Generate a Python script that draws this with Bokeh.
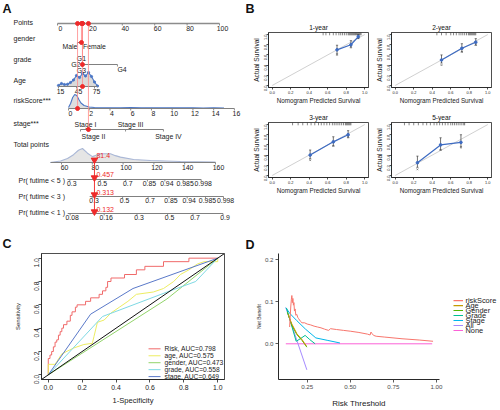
import math
from bokeh.plotting import figure
from bokeh.layouts import row, column
from bokeh.models import Range1d, FixedTicker, NumeralTickFormatter
from bokeh.core.properties import value
from bokeh.embed import file_html
from bokeh.resources import INLINE

# ======================= DATA =======================
# ---- Panel A : nomogram ----
POINTS_TICKS = [0, 20, 40, 60, 80, 100]
GENDER_LEVELS = ["Male", "Female"]
GENDER_POINTS = [12.3, 14.8]
GRADE_LEVELS = ["G1", "G2", "G3", "G4"]
GRADE_POINTS = [15.4, 15.4, 15.4, 37.0]
AGE_TICKS = [15, 45, 75]
AGE_RANGE = [15, 80]
AGE_POINTS_RANGE = [0.6, 24.7]
AGE_DENS_X = [15, 20, 25, 30, 35, 40, 45, 50, 55, 60, 65, 70, 75, 80]
AGE_DENS_Y = [1.0, 3.0, 2.0, 2.2, 4.0, 6.5, 11.0, 9.0, 13.0, 10.5, 14.0, 10.0, 4.5, 0.5]
RISK_TICKS = [0, 2, 4, 6, 8, 10, 12, 14, 16]
RISK_POINTS_RANGE = [6.8, 109.2]          # points at riskScore 0 and 16
RISK_DENS_X = [0, 0.2, 0.4, 0.6, 0.8, 1.0, 1.2, 1.5, 2.0, 2.5, 3, 4, 5, 6, 7, 8, 9, 10, 11, 12, 13, 14, 15]
RISK_DENS_Y = [1.0, 5.0, 11.0, 14.0, 13.0, 9.0, 5.5, 3.0, 1.5, 1.0, 0.8, 0.8, 0.6, 0.9, 0.6, 0.8, 0.6, 0.8, 0.6, 0.7, 0.5, 0.8, 0.5]
STAGE_LEVELS = ["Stage I", "Stage II", "Stage III", "Stage IV"]
STAGE_POINTS = [14.2, 19.1, 42.0, 65.4]
TOTAL_TICKS = [60, 80, 100, 120, 140, 160]
TOTAL_RANGE = [53, 160]
TOTAL_POINTS_AT = [2.47, 97.53]           # points position of total 60 and total 160
TOTAL_DENS_X = [52.6, 59.4, 63.9, 67.8, 71.0, 73.6, 76.9, 80.1, 85.3, 91.8, 95.0, 98.3, 106.8, 117.8, 137.3, 160.0]
TOTAL_DENS_Y = [0, 1.5, 4, 8, 12.5, 14.3, 9.5, 6, 9, 9, 7, 5.5, 3, 2, 1, 0.5]
PR_NAMES = ["Pr( futime < 5 )", "Pr( futime < 3 )", "Pr( futime < 1 )"]
PR5_TICKS = ["0.3", "0.5", "0.7", "0.85", "0.94", "0.985", "0.998"]
PR5_AT = [65.4, 85.2, 101.7, 115.8, 127.1, 139.0, 150.7]
PR3_TICKS = ["0.3", "0.5", "0.7", "0.85", "0.94", "0.985", "0.998"]
PR3_AT = [79.9, 99.7, 116.2, 129.8, 141.6, 153.5, 165.2]
PR1_TICKS = ["0.08", "0.16", "0.3", "0.5", "0.7", "0.9"]
PR1_AT = [65.6, 87.7, 109.0, 128.9, 145.4, 164.9]
CASE_GENDER = "Female"
CASE_GRADE = "G3"
CASE_AGE = 55
CASE_RISK = 0.87
CASE_STAGE = "Stage II"
CASE_TOTAL = 81.4
CASE_PROBS = ["0.457", "0.313", "0.132"]

# ---- Panel B : calibration ----
CAL_TITLES = ["1-year", "2-year", "3-year", "5-year"]
CAL_PRED_1 = [0.70, 0.85, 0.93]; CAL_OBS_1 = [0.70, 0.80, 0.96]
CAL_LO_1 = [0.62, 0.74, 0.92]; CAL_HI_1 = [0.79, 0.88, 1.00]; CAL_BC_1 = [0.60, 0.77, 0.93]
CAL_PRED_2 = [0.50, 0.72, 0.87]; CAL_OBS_2 = [0.50, 0.73, 0.85]
CAL_LO_2 = [0.44, 0.66, 0.79]; CAL_HI_2 = [0.60, 0.82, 0.92]; CAL_BC_2 = [0.40, 0.66, 0.80]
CAL_PRED_3 = [0.41, 0.66, 0.82]; CAL_OBS_3 = [0.40, 0.66, 0.80]
CAL_LO_3 = [0.33, 0.58, 0.74]; CAL_HI_3 = [0.50, 0.76, 0.88]; CAL_BC_3 = [0.30, 0.58, 0.76]
CAL_PRED_5 = [0.24, 0.49, 0.71]; CAL_OBS_5 = [0.25, 0.60, 0.65]
CAL_LO_5 = [0.16, 0.50, 0.56]; CAL_HI_5 = [0.38, 0.74, 0.80]; CAL_BC_5 = [0.12, 0.50, 0.55]
RUG_1 = [0.55, 0.58, 0.62, 0.66, 0.69, 0.72, 0.74, 0.76, 0.78, 0.80, 0.82, 0.83, 0.84, 0.85, 0.86,
         0.87, 0.88, 0.89, 0.90, 0.91, 0.92, 0.93, 0.94, 0.95, 0.96]
RUG_2 = [0.45, 0.50, 0.55, 0.60, 0.63, 0.66, 0.69, 0.71, 0.73, 0.75, 0.77, 0.79, 0.80, 0.81, 0.82,
         0.83, 0.84, 0.85, 0.86, 0.87]
RUG_3 = [0.22, 0.28, 0.33, 0.38, 0.42, 0.46, 0.50, 0.53, 0.56, 0.59, 0.62, 0.65, 0.67, 0.69, 0.71,
         0.73, 0.75, 0.77, 0.79, 0.80, 0.81, 0.82, 0.83, 0.84, 0.85]
RUG_5 = [0.10, 0.15, 0.20, 0.25, 0.30, 0.34, 0.38, 0.42, 0.45, 0.48, 0.51, 0.54, 0.57, 0.60, 0.62,
         0.64, 0.66, 0.68, 0.70, 0.72, 0.74, 0.75]

# ---- Panel C : ROC ----
ROC_NAMES = ["Risk, AUC=0.798", "age, AUC=0.575", "gender, AUC=0.473", "grade, AUC=0.558", "stage, AUC=0.649"]
RISK_FPR = [0.00, 0.00, 0.01, 0.02, 0.03, 0.04, 0.05, 0.06, 0.07, 0.08, 0.09, 0.11, 0.13, 0.14, 0.16,
            0.17, 0.22, 0.25, 0.30, 0.32, 0.34, 0.35, 0.37, 0.45, 0.52, 0.57, 0.68, 0.83, 1.00]
RISK_TPR = [0.06, 0.14, 0.17, 0.20, 0.24, 0.28, 0.30, 0.34, 0.37, 0.40, 0.43, 0.46, 0.51, 0.54, 0.58,
            0.60, 0.63, 0.66, 0.69, 0.72, 0.75, 0.80, 0.83, 0.86, 0.90, 0.93, 0.97, 1.00, 1.00]
AGE_FPR = [0, 0, 0.04, 0.08, 0.15, 0.21, 0.26, 0.27, 0.29, 0.33, 0.37, 0.42, 0.47, 0.52, 0.62, 0.68,
           0.74, 0.78, 0.83, 0.88, 0.92, 1.0, 1.0]
AGE_TPR = [0, 0.09, 0.09, 0.18, 0.23, 0.26, 0.27, 0.33, 0.45, 0.47, 0.53, 0.58, 0.63, 0.69, 0.71, 0.74,
           0.80, 0.86, 0.90, 0.95, 0.97, 0.97, 1.0]
GENDER_FPR = [0, 0.70, 1.0]
GENDER_TPR = [0, 0.65, 1.0]
GRADE_FPR = [0, 0.32, 0.72, 0.87, 1.0]
GRADE_TPR = [0, 0.50, 0.72, 0.80, 1.0]
STAGE_FPR = [0, 0.25, 0.50, 1.0]
STAGE_TPR = [0, 0.52, 0.74, 1.0]

# ---- Panel D : decision curves ----
DCA_NAMES = ["riskScore", "Age", "Gender", "Grade", "Stage", "All", "None"]
DCA_RISK_X = [0.148, 0.152, 0.155, 0.158, 0.161, 0.164, 0.167, 0.170, 0.173, 0.176, 0.180, 0.184, 0.190, 0.195,
              0.200, 0.210, 0.220, 0.235, 0.250, 0.270, 0.290, 0.310, 0.330, 0.350, 0.365, 0.375, 0.385, 0.420,
              0.460, 0.500, 0.550, 0.600, 0.615, 0.620, 0.625, 0.635, 0.650, 0.700, 0.800, 0.900, 0.980]
DCA_RISK_Y = [0.040, 0.070, 0.090, 0.105, 0.115, 0.098, 0.108, 0.092, 0.098, 0.078, 0.083, 0.068, 0.070, 0.063,
              0.060, 0.054, 0.050, 0.050, 0.047, 0.045, 0.042, 0.040, 0.038, 0.035, 0.033, 0.032, 0.036, 0.034,
              0.032, 0.030, 0.027, 0.023, 0.021, 0.028, 0.025, 0.020, 0.018, 0.016, 0.012, 0.009, 0.006]
DCA_AGE_X = [0.14, 0.16, 0.19, 0.22, 0.245]
DCA_AGE_Y = [0.070, 0.048, 0.024, 0.010, -0.005]
DCA_GENDER_X = [0.135, 0.16, 0.19, 0.22, 0.248]
DCA_GENDER_Y = [0.075, 0.045, 0.022, 0.008, -0.008]
DCA_GRADE_X = [0.13, 0.155, 0.186, 0.21, 0.238, 0.265, 0.296]
DCA_GRADE_Y = [0.085, 0.050, 0.006, 0.012, 0.020, 0.010, 0.000]
DCA_STAGE_X = [0.126, 0.15, 0.19, 0.24, 0.30, 0.37, 0.44]
DCA_STAGE_Y = [0.086, 0.072, 0.055, 0.035, 0.014, 0.008, 0.002]
DCA_ALL_X = [0.126, 0.248]
DCA_ALL_Y = [0.086, -0.062]
DCA_NONE_X = [0.126, 0.975]
DCA_NONE_Y = [0.0, 0.0]

# ======================= STYLE / LAYOUT =======================
FONT = "Liberation Sans"
TXT = "#1a1a1a"
RED = "#EE2A2A"


def fpx(s):
    return f"{s:.2f}px"


def make_fig(box, frame, xr, yr, axes=True):
    x0, x1, y0, y1 = box
    fx0, fx1, fy0, fy1 = frame
    kw = dict(
        width=round(x1) - round(x0),
        height=round(y1) - round(y0),
        min_border=0,
        min_border_left=round(fx0) - round(x0),
        min_border_right=round(x1) - round(fx1),
        min_border_top=round(fy0) - round(y0),
        min_border_bottom=round(y1) - round(fy1),
        x_range=Range1d(*xr), y_range=Range1d(*yr),
        output_backend="svg", toolbar_location=None, tools="",
        background_fill_color="white", border_fill_color="white",
    )
    if not axes:
        kw.update(x_axis_type=None, y_axis_type=None)
    p = figure(**kw)
    p.grid.visible = False
    p.outline_line_color = None
    return p


def geo(frame, xr, yr):
    fx0, fx1, fy0, fy1 = frame
    gx = lambda px: xr[0] + (px - fx0) / (fx1 - fx0) * (xr[1] - xr[0])
    gy = lambda py: yr[0] + (fy1 - py) / (fy1 - fy0) * (yr[1] - yr[0])
    return gx, gy


def set_title(p, text, size, align, offset, standoff, bold=False):
    t = p.title
    t.text = text
    t.align = align
    t.offset = offset
    t.standoff = standoff
    t.vertical_align = "bottom"
    t.text_font = FONT
    t.text_font_size = fpx(size)
    t.text_font_style = "bold" if bold else "normal"
    t.text_color = "#111111"


def axis_labels(p, xlab, ylab, xsize, ysize, xstand, ystand):
    p.xaxis.axis_label = xlab
    p.yaxis.axis_label = ylab
    for ax, s, st in ((p.xaxis, xsize, xstand), (p.yaxis, ysize, ystand)):
        ax.axis_label_text_font = FONT
        ax.axis_label_text_font_size = fpx(s)
        ax.axis_label_text_font_style = "normal"
        ax.axis_label_text_color = TXT
        ax.axis_label_standoff = st


def r_axes(p, ticks, size, tick_out, standoff, fmt="0.0"):
    for ax in (p.xaxis, p.yaxis):
        ax.ticker = FixedTicker(ticks=ticks)
        ax.formatter = NumeralTickFormatter(format=fmt)
        ax.major_tick_in = 0
        ax.major_tick_out = tick_out
        ax.major_label_standoff = standoff
        ax.major_label_text_font = FONT
        ax.major_label_text_font_size = fpx(size)
        ax.major_label_text_color = TXT
        ax.axis_line_color = "#222222"
        ax.major_tick_line_color = "#222222"
        ax.axis_line_width = 0.8
        ax.major_tick_line_width = 0.8
    p.yaxis.major_label_orientation = math.pi / 2
    p.outline_line_color = "#222222"
    p.outline_line_width = 0.8


# ======================= PANEL A =======================
A_BOX = (0, 245, 0, 230)
PX0, PXU = 57.0, 1.62
pA = make_fig(A_BOX, A_BOX, ((0 - PX0) / PXU, (245 - PX0) / PXU), (230, 0), axes=False)


def ptx(px):
    return (px - PX0) / PXU


def age_pts(a):
    return AGE_POINTS_RANGE[0] + (a - AGE_RANGE[0]) * (AGE_POINTS_RANGE[1] - AGE_POINTS_RANGE[0]) / (AGE_RANGE[1] - AGE_RANGE[0])


def risk_pts(r):
    return RISK_POINTS_RANGE[0] + r * (RISK_POINTS_RANGE[1] - RISK_POINTS_RANGE[0]) / 16.0


def total_pts(t):
    return TOTAL_POINTS_AT[0] + (t - 60) * (TOTAL_POINTS_AT[1] - TOTAL_POINTS_AT[0]) / 100.0


AX_COL = "#808080"


def atext(xs, ys, texts, size=6.9, color=TXT, align="center", baseline="middle", dx=0.0, bold=False, fig=None):
    (fig or pA).text(x=xs, y=ys, text=texts, text_font=value(FONT), text_font_size=fpx(size),
                     text_color=color, text_align=align, text_baseline=baseline, x_offset=dx,
                     text_font_style="bold" if bold else "normal")


def aline(x0, x1, y, w=1.1, col=AX_COL):
    pA.line([x0, x1], [y, y], line_color=col, line_width=w)


def aticks(xs, y, ln=2.0):
    pA.segment(x0=xs, y0=[y] * len(xs), x1=xs, y1=[y + ln] * len(xs), line_color=AX_COL, line_width=0.9)


def density(xs_pts, ds, base, fill, line, markers=False):
    m = max(ds)
    ys = [base - d / m * 14.0 for d in ds]
    pA.varea(x=xs_pts, y1=[base] * len(xs_pts), y2=ys, fill_color=fill, fill_alpha=0.9)
    pA.line(xs_pts, ys, line_color=line, line_width=1.1)
    if markers:
        pA.scatter(xs_pts, ys, size=2.2, color=line)


# row labels
ROW_LABEL_Y = [22, 38, 59, 80, 100, 123, 144]
ROW_LABELS = ["Points", "gender", "grade", "Age", "riskScore***", "stage***", "Total points"]
atext([ptx(13)] * len(ROW_LABELS), ROW_LABEL_Y, ROW_LABELS, size=7, align="left")
atext([ptx(18)] * 3, [180, 196, 212], PR_NAMES, size=7, align="left")

# densities (drawn below axes)
density([age_pts(a) for a in AGE_DENS_X], AGE_DENS_Y, 86, "#D6D6D6", "#4A76C6", markers=True)
density([risk_pts(r) for r in RISK_DENS_X], RISK_DENS_Y, 108, "#DADADA", "#4A76C6")
density([total_pts(t) for t in TOTAL_DENS_X], TOTAL_DENS_Y, 162, "#E2E2E2", "#A9B7D6")

# Points axis
aline(0, 100, 23, w=1.6, col="#8c8c8c")
aticks(POINTS_TICKS, 23)
atext(POINTS_TICKS, [27.5] * len(POINTS_TICKS), [str(v) for v in POINTS_TICKS], dx=3)

# gender
aline(GENDER_POINTS[0], GENDER_POINTS[1], 42)
aticks(GENDER_POINTS, 42)
atext([GENDER_POINTS[0]], [45.5], [GENDER_LEVELS[0]], align="right")
atext([GENDER_POINTS[1]], [45.5], [GENDER_LEVELS[1]], align="left", dx=1.5)

# grade
aline(min(GRADE_POINTS), max(GRADE_POINTS), 64)
aticks(GRADE_POINTS, 64)
atext([GRADE_POINTS[0]], [57.5], [GRADE_LEVELS[0]], dx=-1)
atext([GRADE_POINTS[1]], [63.5], [GRADE_LEVELS[1]], align="right", dx=-2)
atext([GRADE_POINTS[2]], [69.5], [GRADE_LEVELS[2]], dx=-1)
atext([GRADE_POINTS[3]], [68.5], [GRADE_LEVELS[3]], align="left")

# age
aline(age_pts(AGE_RANGE[0]), age_pts(AGE_RANGE[1]), 86)
aticks([age_pts(a) for a in AGE_TICKS], 86)
atext([age_pts(a) for a in AGE_TICKS], [90.5] * 3, [str(a) for a in AGE_TICKS], dx=2)

# riskScore
aline(risk_pts(0), risk_pts(16), 108)
aticks([risk_pts(r) for r in RISK_TICKS], 108)
atext([risk_pts(r) for r in RISK_TICKS], [112.5] * len(RISK_TICKS), [str(r) for r in RISK_TICKS], dx=2)

# stage
aline(min(STAGE_POINTS), max(STAGE_POINTS), 129)
aticks(STAGE_POINTS, 129)
atext([STAGE_POINTS[0], STAGE_POINTS[2]], [123.5, 124], [STAGE_LEVELS[0], STAGE_LEVELS[2]], dx=5)
atext([STAGE_POINTS[1], STAGE_POINTS[3]], [135.5, 135.5], [STAGE_LEVELS[1], STAGE_LEVELS[3]], dx=5)

# total points
aline(total_pts(TOTAL_RANGE[0]), total_pts(TOTAL_RANGE[1]), 162)
aticks([total_pts(t) for t in TOTAL_TICKS], 162)
atext([total_pts(t) for t in TOTAL_TICKS], [166.5] * len(TOTAL_TICKS), [str(t) for t in TOTAL_TICKS], dx=3)

# probability axes
for ats, labs, y in ((PR5_AT, PR5_TICKS, 179), (PR3_AT, PR3_TICKS, 196), (PR1_AT, PR1_TICKS, 213)):
    xs = [total_pts(t) for t in ats]
    aline(min(xs) - 1.5, max(xs), y)
    aticks(xs, y)
    atext(xs, [y + 4.2] * len(xs), labs, dx=2)

# red case markers
case_pts = [risk_pts(CASE_RISK),
            GENDER_POINTS[GENDER_LEVELS.index(CASE_GENDER)],
            GRADE_POINTS[GRADE_LEVELS.index(CASE_GRADE)],
            age_pts(CASE_AGE),
            STAGE_POINTS[STAGE_LEVELS.index(CASE_STAGE)]]
case_y = [108, 42, 64, 86, 129]
pA.segment(x0=case_pts, y0=[23] * 5, x1=case_pts, y1=case_y, line_color="#FF8A8A", line_width=0.8)
pA.scatter(case_pts, case_y, size=4.0, color=RED)
pA.scatter(case_pts, [23] * 5, size=4.0, color=RED)
tx = total_pts(CASE_TOTAL)
pA.segment(x0=[tx], y0=[160], x1=[tx], y1=[212], line_color="#F03A3A", line_width=1.0)
pA.scatter([tx] * 4, [159.5, 177.2, 194.2, 211.2], marker="inverted_triangle", size=6.5, color=RED)
atext([tx], [155], [str(CASE_TOTAL)], size=7, color=RED, align="left", dx=2)
atext([tx] * 3, [174, 191.5, 208.5], CASE_PROBS, size=7, color=RED, align="left", dx=2)
atext([ptx(2)], [8], ["A"], size=12.5, color="#111111", align="left", bold=True)

# ======================= PANEL B =======================
pBH = make_fig((245, 500, 0, 19), (245, 500, 0, 19), (245, 500), (19, 0), axes=False)
atext([245], [8.5], ["B"], size=12.5, color="#111111", align="left", bold=True, fig=pBH)

B_BOXES = [(245, 372, 19, 106), (372, 500, 19, 106), (245, 372, 106, 230), (372, 500, 106, 230)]
B_FRAMES = [(268, 368, 32, 89), (391, 491, 32, 89), (268, 368, 121.5, 177), (391, 491, 121.5, 177)]
CAL = [(CAL_PRED_1, CAL_OBS_1, CAL_LO_1, CAL_HI_1, CAL_BC_1, RUG_1),
       (CAL_PRED_2, CAL_OBS_2, CAL_LO_2, CAL_HI_2, CAL_BC_2, RUG_2),
       (CAL_PRED_3, CAL_OBS_3, CAL_LO_3, CAL_HI_3, CAL_BC_3, RUG_3),
       (CAL_PRED_5, CAL_OBS_5, CAL_LO_5, CAL_HI_5, CAL_BC_5, RUG_5)]
BR = (-0.04, 1.04)
pB = []
for i in range(4):
    box, frame = B_BOXES[i], B_FRAMES[i]
    p = make_fig(box, frame, BR, BR)
    r_axes(p, [0, 0.2, 0.4, 0.6, 0.8, 1.0], 3.9, 2, 1)
    axis_labels(p, "Nomogram Predicted Survival", "Actual Survival", 6.3, 6.6, 0, 0)
    set_title(p, CAL_TITLES[i], 6.6, "center", 0, 3)
    pred, obs, lo, hi, bc, rug = CAL[i]
    p.line([0, 1], [0, 1], line_color="#C4C4C4", line_width=0.8)
    p.segment(x0=rug, y0=[0.985] * len(rug), x1=rug, y1=[1.04] * len(rug), line_color="#111111", line_width=0.5)
    p.segment(x0=pred, y0=lo, x1=pred, y1=hi, line_color="#333333", line_width=0.7)
    p.segment(x0=[v - 0.012 for v in pred], y0=lo, x1=[v + 0.012 for v in pred], y1=lo, line_color="#333333", line_width=0.6)
    p.segment(x0=[v - 0.012 for v in pred], y0=hi, x1=[v + 0.012 for v in pred], y1=hi, line_color="#333333", line_width=0.6)
    p.scatter(pred, bc, marker="x", size=2.5, line_color="#555555", line_width=0.6)
    p.line(pred, obs, line_color="#3D6BC2", line_width=1.2)
    p.scatter(pred, obs, size=2.6, color="#3D6BC2")
    pB.append(p)

# ======================= PANEL C =======================
C_BOX = (0, 245, 230, 410)
C_FRAME = (41.2, 223.8, 253.2, 383.8)
CR = (-0.04, 1.04)
pC = make_fig(C_BOX, C_FRAME, CR, CR)
r_axes(pC, [0, 0.2, 0.4, 0.6, 0.8, 1.0], 6.8, 3, 2)
axis_labels(pC, "1-Specificity", "Sensitivity", 7.6, 6.0, 3, 8)
set_title(pC, "C", 12.5, "left", -39, 6, bold=True)


def stairs(fx, ty):
    xs, ys, prev = [0.0], [0.0], 0.0
    for f, t in zip(fx, ty):
        xs += [f, f]
        ys += [prev, t]
        prev = t
    return xs, ys


ROC_COLORS = ["#F06A6A", "#EDED62", "#92D46A", "#7ED9E4", "#5A79C9"]
rx, ry = stairs(RISK_FPR, RISK_TPR)
pC.line(rx, ry, line_color=ROC_COLORS[0], line_width=1.0)
pC.line(AGE_FPR, AGE_TPR, line_color=ROC_COLORS[1], line_width=1.0)
pC.line(GENDER_FPR, GENDER_TPR, line_color=ROC_COLORS[2], line_width=1.0)
pC.line(GRADE_FPR, GRADE_TPR, line_color=ROC_COLORS[3], line_width=1.0)
pC.line(STAGE_FPR, STAGE_TPR, line_color=ROC_COLORS[4], line_width=1.0)
pC.line([-0.04, 1.04], [-0.04, 1.04], line_color="#111111", line_width=1.0)
gxc, gyc = geo(C_FRAME, CR, CR)
leg_y = [gyc(352 + 7.2 * k) for k in range(5)]
pC.segment(x0=[gxc(148)] * 5, y0=leg_y, x1=[gxc(160)] * 5, y1=leg_y, line_color=ROC_COLORS, line_width=1.0)
atext([gxc(164)] * 5, leg_y, ROC_NAMES, size=6.7, align="left", fig=pC)

# ======================= PANEL D =======================
D_BOX = (245, 446, 230, 410)
D_FRAME = (278.4, 439, 252.6, 380)
DXR = (0.0835, 1.0175)
DYR = (-0.085, 0.215)
pD = make_fig(D_BOX, D_FRAME, DXR, DYR)
pD.xaxis.ticker = FixedTicker(ticks=[0.25, 0.5, 0.75, 1.0])
pD.xaxis.formatter = NumeralTickFormatter(format="0.00")
pD.yaxis.ticker = FixedTicker(ticks=[0.0, 0.1, 0.2])
pD.yaxis.formatter = NumeralTickFormatter(format="0.0")
for ax in (pD.xaxis, pD.yaxis):
    ax.major_tick_in = 0
    ax.major_tick_out = 3
    ax.major_label_standoff = 2
    ax.major_label_text_font = FONT
    ax.major_label_text_font_size = fpx(6.2)
    ax.major_label_text_color = "#4D4D4D"
    ax.axis_line_color = "#111111"
    ax.axis_line_width = 0.9
    ax.major_tick_line_color = "#333333"
    ax.major_tick_line_width = 0.8
axis_labels(pD, "Risk Threshold", "Net Benefit", 8.0, 5.0, 7, 0)
set_title(pD, "D", 12.5, "left", -33, 4, bold=True)
DCA_COLORS = ["#F8766D", "#C49A00", "#53B400", "#00C094", "#00B6EB", "#A58AFF", "#FB61D7"]
DCA_SERIES = [(DCA_RISK_X, DCA_RISK_Y), (DCA_AGE_X, DCA_AGE_Y), (DCA_GENDER_X, DCA_GENDER_Y),
              (DCA_GRADE_X, DCA_GRADE_Y), (DCA_STAGE_X, DCA_STAGE_Y), (DCA_ALL_X, DCA_ALL_Y),
              (DCA_NONE_X, DCA_NONE_Y)]
for k in reversed(range(7)):
    xs, ys = DCA_SERIES[k]
    pD.line(xs, ys, line_color=DCA_COLORS[k], line_width=1.0)

# legend (own small canvas to the right of the panel)
DL_BOX = (446, 500, 230, 410)
pDL = make_fig(DL_BOX, DL_BOX, (446, 500), (410, 230), axes=False)
rows_y = [297.3 + 7.1 * k for k in range(7)]
pDL.segment(x0=[453] * 7, y0=rows_y, x1=[462.5] * 7, y1=rows_y, line_color=DCA_COLORS, line_width=1.1)
atext([465] * 7, rows_y, DCA_NAMES, size=7.4, align="left", fig=pDL)

# ======================= ASSEMBLE =======================
layout = column(
    row(pA, column(pBH, row(pB[0], pB[1]), row(pB[2], pB[3]))),
    row(pC, pD, pDL),
)
open("out.html", "w").write(file_html(layout, INLINE))
